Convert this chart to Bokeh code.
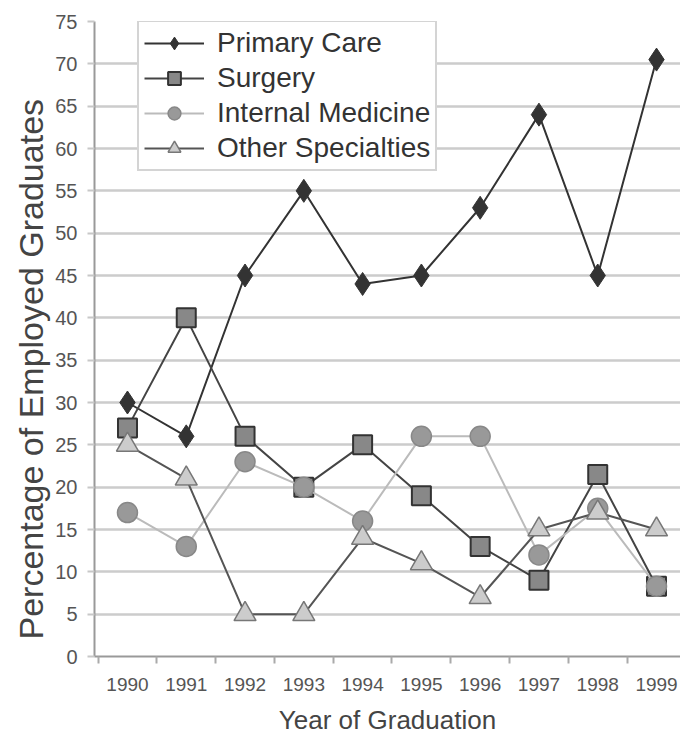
from bokeh.plotting import figure
from bokeh.models import FixedTicker, Legend, LegendItem, Range1d, Title
from bokeh.embed import file_html
from bokeh.resources import INLINE

years = [1990, 1991, 1992, 1993, 1994, 1995, 1996, 1997, 1998, 1999]
primary_care = [30, 26, 45, 55, 44, 45, 53, 64, 45, 70.5]
surgery = [27, 40, 26, 20, 25, 19, 13, 9, 21.5, 8.3]
internal_medicine = [17, 13, 23, 20, 16, 26, 26, 12, 17.5, 8.3]
other_specialties = [25, 21, 5, 5, 14, 11, 7, 15, 17, 15]
y_ticks = [0, 5, 10, 15, 20, 25, 30, 35, 40, 45, 50, 55, 60, 65, 70, 75]
year_bounds = [y - 0.5 for y in years]

FONT = "Liberation Sans"

p = figure(width=680, height=741,
           x_range=Range1d(1989.439, 1999.408), y_range=Range1d(0, 75),
           output_backend="svg", toolbar_location=None,
           min_border_left=94, min_border_right=0, min_border_top=21, min_border_bottom=85)
p.outline_line_color = None
p.background_fill_color = "white"

# axes
p.xaxis.ticker = FixedTicker(ticks=years, minor_ticks=year_bounds)
p.xaxis.major_tick_line_color = None
p.xaxis.minor_tick_out = 7
p.xaxis.minor_tick_in = 0
p.xaxis.minor_tick_line_color = "#aaaaaa"
p.xaxis.minor_tick_line_width = 2
p.xaxis.major_label_standoff = 14
p.xaxis.major_label_text_font_size = "19px"
p.xaxis.axis_label = "Year of Graduation"
p.xaxis.axis_label_standoff = 11
p.xaxis.axis_label_text_font_size = "26px"

p.yaxis.ticker = FixedTicker(ticks=y_ticks)
p.yaxis.minor_tick_line_color = None
p.yaxis.major_tick_out = 7
p.yaxis.major_tick_in = 0
p.yaxis.major_tick_line_color = "#c8c8c8"
p.yaxis.major_tick_line_width = 2
p.yaxis.major_label_standoff = 10
p.yaxis.major_label_text_font_size = "20px"

for ax in (p.xaxis[0], p.yaxis[0]):
    ax.axis_line_color = "#999999"
    ax.axis_line_width = 2
    ax.major_label_text_color = "#555555"
    ax.major_label_text_font = FONT
    ax.axis_label_text_font = FONT
    ax.axis_label_text_font_style = "normal"
    ax.axis_label_text_color = "#444444"

ytitle = Title(text="Percentage of Employed Graduates", align="left", offset=17,
               text_font=FONT, text_font_size="34px", text_font_style="normal",
               text_color="#444444", standoff=6)
p.add_layout(ytitle, "left")

p.xgrid.visible = False
p.ygrid.ticker = FixedTicker(ticks=y_ticks)
p.ygrid.grid_line_color = "#cccccc"
p.ygrid.grid_line_width = 2.5

# series
l1 = p.line(years, primary_care, line_color="#333333", line_width=2)
m1 = p.scatter(years, primary_care, marker="diamond", size=23, fill_color="#333333", line_color="#333333")
l2 = p.line(years, surgery, line_color="#444444", line_width=2)
m2 = p.scatter(years, surgery, marker="square", size=19, fill_color="#888888", line_color="#333333", line_width=2)
l3 = p.line(years, internal_medicine, line_color="#bbbbbb", line_width=2)
m3 = p.scatter(years, internal_medicine, marker="circle", size=20, fill_color="#999999", line_color="#888888", line_width=1.5)
l4 = p.line(years, other_specialties, line_color="#555555", line_width=2)
m4 = p.scatter(years, other_specialties, marker="triangle", size=22, fill_color="#cccccc", line_color="#777777", line_width=1.5)

legend = Legend(items=[
    LegendItem(label="Primary Care", renderers=[l1, m1]),
    LegendItem(label="Surgery", renderers=[l2, m2]),
    LegendItem(label="Internal Medicine", renderers=[l3, m3]),
    LegendItem(label="Other Specialties", renderers=[l4, m4]),
], location=(43, 485))
legend.label_text_font = FONT
legend.label_text_font_size = "28px"
legend.label_text_color = "#333333"
legend.glyph_width = 60
legend.glyph_height = 32
legend.label_height = 32
legend.spacing = 3
legend.padding = 5
legend.margin = 0
legend.label_standoff = 13
legend.border_line_color = "#aaaaaa"
legend.border_line_width = 2
legend.background_fill_color = "white"
legend.background_fill_alpha = 1
p.add_layout(legend)

open("out.html", "w").write(file_html(p, INLINE))
